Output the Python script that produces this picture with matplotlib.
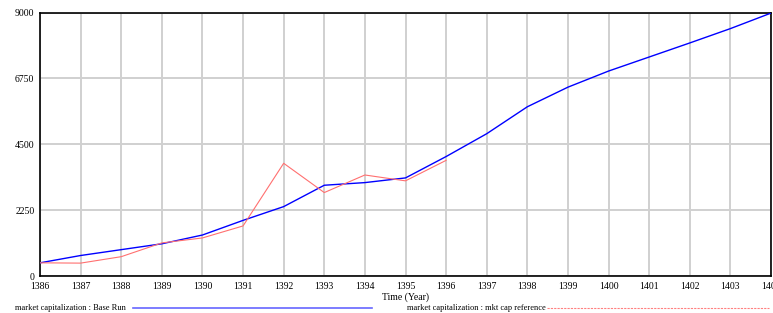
import matplotlib
matplotlib.use("Agg")
import matplotlib.pyplot as plt
from matplotlib.lines import Line2D

years = list(range(1386, 1405))
base_run = [450, 700, 900, 1100, 1400, 1900, 2370, 3100, 3190, 3350, 4080,
            4860, 5780, 6450, 7000, 7480, 7960, 8450, 8980]
ref_years = list(range(1386, 1397))
mkt_cap_ref = [450, 440, 660, 1130, 1300, 1710, 3850, 2850, 3450, 3250, 3950]
yticks = [0, 2250, 4500, 6750, 9000]

plt.rcParams['font.family'] = ['Liberation Serif', 'DejaVu Serif']

fig = plt.figure(figsize=(7.73, 3.13), dpi=100)
ax = fig.add_axes([40/773, 37/313, 731/773, 263.5/313])

ax.plot(years, base_run, color='#0000ff', lw=1.0, zorder=3)
ax.plot(ref_years, mkt_cap_ref, color='#ff7070', lw=0.8, zorder=3)

ax.set_xlim(1386, 1404)
ax.set_ylim(0, 9000)
ax.set_xticks(years)
ax.set_xticklabels([str(y) for y in years])
ax.set_yticks(yticks)
ax.tick_params(length=0, labelsize=7, pad=4)
ax.grid(True, color='#d0d0d0', lw=1.4)
ax.set_axisbelow(True)
for s in ax.spines.values():
    s.set_color('black')
    s.set_linewidth(1.2)

ax.set_xlabel('Time (Year)', fontsize=7, labelpad=1)

# legend row
fig.text(15/773, 5/313, 'market capitalization : Base Run', fontsize=6, va='center', ha='left')
fig.add_artist(Line2D([133/773, 372/773], [5/313, 5/313], color='#6666ff', lw=1.2, transform=fig.transFigure))
fig.text(407/773, 5/313, 'market capitalization : mkt cap reference', fontsize=6, va='center', ha='left')
fig.add_artist(Line2D([547/773, 769/773], [5/313, 5/313], color='#ff8080', lw=0.8, ls=(0, (2, 1)), transform=fig.transFigure))

fig.savefig('out.png', dpi=100)
